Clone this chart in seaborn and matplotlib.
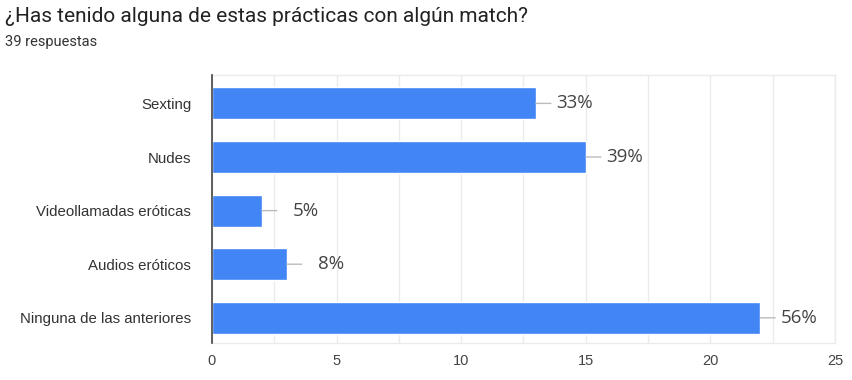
import matplotlib
matplotlib.use("Agg")
import matplotlib.pyplot as plt
import seaborn as sns
import pandas as pd
from matplotlib.ticker import MultipleLocator

categories = ["Sexting", "Nudes", "Videollamadas eróticas", "Audios eróticos", "Ninguna de las anteriores"]
counts = [13, 15, 2, 3, 22]
pct_labels = ["33%", "39%", "5%", "8%", "56%"]
xticks = [0, 5, 10, 15, 20, 25]

df = pd.DataFrame({"cat": categories, "n": counts})

sns.set_theme(style="white")
plt.rcParams["font.family"] = ["Roboto", "DejaVu Sans"]

fig = plt.figure(figsize=(8.53, 3.8), dpi=100)
ax = fig.add_axes([212/853, 1-343/380, 623/853, 268/380])

sns.barplot(data=df, y="cat", x="n", color="#4285F4", saturation=1, width=0.6, ax=ax, orient="h")

ax.set_xlim(0, 25)
ax.set_ylim(4.47, -0.53)
ax.set_xticks(xticks)
ax.xaxis.set_minor_locator(MultipleLocator(2.5))
ax.grid(True, which="both", axis="x", color="#ebebeb", linewidth=1)
ax.set_axisbelow(True)
ax.set_xlabel("")
ax.set_ylabel("")
ax.tick_params(axis="x", which="both", length=0, labelsize=10.5, colors="#444444", pad=8)
ax.tick_params(axis="y", length=0, labelsize=10.8, colors="#333333", pad=15)
for lbl in ax.get_xticklabels() + ax.get_yticklabels():
    lbl.set_family(["Liberation Sans", "DejaVu Sans"])
for s in ["top", "right", "bottom"]:
    ax.spines[s].set_color("#ebebeb")
    ax.spines[s].set_linewidth(1)
ax.spines["left"].set_color("#444444")
ax.spines["left"].set_linewidth(1.2)
ax.spines["left"].set_zorder(5)

for i, (n, lab) in enumerate(zip(counts, pct_labels)):
    ax.annotate("", xy=(n, i), xytext=(15, 0), textcoords="offset pixels",
                xycoords="data",
                arrowprops=dict(arrowstyle="-", color="#bbbbbb", lw=1, shrinkA=0, shrinkB=0))
    ax.annotate(lab, xy=(n, i), xytext=(57, 0), textcoords="offset pixels",
                ha="right", va="center", fontsize=13.5, color="#444444",
                family=["Open Sans", "DejaVu Sans"])

fig.text(5/853, 1-17/380, "¿Has tenido alguna de estas prácticas con algún match?",
         fontsize=15, color="#222222", va="center", ha="left")
fig.text(5/853, 1-42/380, "39 respuestas", fontsize=10.5, color="#333333", va="center", ha="left")

fig.savefig("out.png", dpi=100)
